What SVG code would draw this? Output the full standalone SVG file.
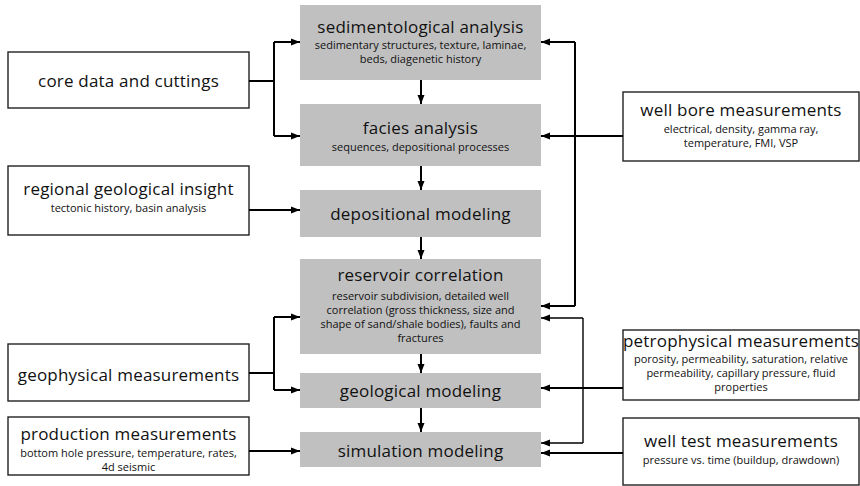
<svg xmlns="http://www.w3.org/2000/svg" width="860" height="486" viewBox="0 0 860 486">
<style>
.g{fill:#c0c0c0;stroke:none}
.w{fill:#fff;stroke:#222;stroke-width:1.4}
text{font-family:"Open Sans","Noto Sans","DejaVu Sans",sans-serif;fill:#111;text-anchor:middle}
.t{font-size:17px;letter-spacing:0.2px}
.s{font-size:11px}
.c path{fill:none;stroke:#000;stroke-width:2}
.c .thin{stroke-width:1.4}
</style>
<defs>
<marker id="a" markerUnits="userSpaceOnUse" markerWidth="10" markerHeight="8" refX="9" refY="4" orient="auto">
<path d="M0,0.5 L9,4 L0,7.5 z" fill="#000"/>
</marker>
</defs>
<rect width="860" height="486" fill="#fff"/>

<g id="sedimentological">
<rect class="g" x="300" y="5" width="241" height="75"/>
<text class="t" x="420.5" y="33">sedimentological analysis</text>
<text class="s" x="420.5" y="49">sedimentary structures, texture, laminae,</text>
<text class="s" x="420.5" y="63">beds, diagenetic history</text>
</g>
<g id="facies">
<rect class="g" x="300" y="104" width="241" height="62"/>
<text class="t" x="420.5" y="134">facies analysis</text>
<text class="s" x="420.5" y="151">sequences, depositional processes</text>
</g>
<g id="depositional">
<rect class="g" x="300" y="190" width="241" height="47"/>
<text class="t" x="420.5" y="220">depositional modeling</text>
</g>
<g id="reservoir">
<rect class="g" x="300" y="259" width="241" height="95"/>
<text class="t" x="420.5" y="281">reservoir correlation</text>
<text class="s" x="420.5" y="300">reservoir subdivision, detailed well</text>
<text class="s" x="420.5" y="314">correlation (gross thickness, size and</text>
<text class="s" x="420.5" y="328">shape of sand/shale bodies), faults and</text>
<text class="s" x="420.5" y="342">fractures</text>
</g>
<g id="geological">
<rect class="g" x="300" y="373" width="241" height="35"/>
<text class="t" x="420.5" y="397">geological modeling</text>
</g>
<g id="simulation">
<rect class="g" x="300" y="432" width="241" height="35"/>
<text class="t" x="420.5" y="457">simulation modeling</text>
</g>

<g id="core">
<rect class="w" x="8" y="52" width="241" height="56"/>
<text class="t" x="128.5" y="87">core data and cuttings</text>
</g>
<g id="regional">
<rect class="w" x="8" y="166" width="241" height="69"/>
<text class="t" x="128.5" y="195">regional geological insight</text>
<text class="s" x="128.5" y="212">tectonic history, basin analysis</text>
</g>
<g id="geophysical">
<rect class="w" x="8" y="344" width="241" height="57"/>
<text class="t" x="128.5" y="381">geophysical measurements</text>
</g>
<g id="production">
<rect class="w" x="8" y="417" width="241" height="58"/>
<text class="t" x="128.5" y="440">production measurements</text>
<text class="s" x="128.5" y="457">bottom hole pressure, temperature, rates,</text>
<text class="s" x="128.5" y="471">4d seismic</text>
</g>
<g id="wellbore">
<rect class="w" x="623" y="92" width="236" height="69"/>
<text class="t" x="741" y="116">well bore measurements</text>
<text class="s" x="741" y="133">electrical, density, gamma ray,</text>
<text class="s" x="741" y="147">temperature, FMI, VSP</text>
</g>
<g id="petrophysical">
<rect class="w" x="623" y="330" width="236" height="70"/>
<text class="t" x="741" y="347">petrophysical measurements</text>
<text class="s" x="741" y="363">porosity, permeability, saturation, relative</text>
<text class="s" x="741" y="377">permeability, capillary pressure, fluid</text>
<text class="s" x="741" y="391">properties</text>
</g>
<g id="welltest">
<rect class="w" x="623" y="418" width="236" height="67"/>
<text class="t" x="741" y="447">well test measurements</text>
<text class="s" x="741" y="464">pressure vs. time (buildup, drawdown)</text>
</g>

<g id="connectors" class="c">
<path d="M249,81 H274"/>
<path d="M274,42 V136"/>
<path d="M274,42 H300" marker-end="url(#a)"/>
<path d="M274,136 H300" marker-end="url(#a)"/>
<path d="M249,210 H300" marker-end="url(#a)"/>
<path d="M249,373 H274"/>
<path d="M274,317 V390"/>
<path d="M274,317 H300" marker-end="url(#a)"/>
<path d="M274,390 H300" marker-end="url(#a)"/>
<path d="M249,451 H300" marker-end="url(#a)"/>
<path d="M421,80 V104" marker-end="url(#a)"/>
<path d="M421,166 V190" marker-end="url(#a)"/>
<path d="M421,237 V259" marker-end="url(#a)"/>
<path d="M421,354 V373" marker-end="url(#a)"/>
<path d="M421,408 V432" marker-end="url(#a)"/>
<path d="M623,136 H541" marker-end="url(#a)"/>
<path d="M575,42 V306"/>
<path d="M575,42 H541" marker-end="url(#a)"/>
<path d="M575,306 H541" marker-end="url(#a)"/>
<path d="M623,388 H541" marker-end="url(#a)"/>
<path d="M623,453 H541" marker-end="url(#a)"/>
<path class="thin" d="M583,318 V443"/>
<path class="thin" d="M583,318 H541" marker-end="url(#a)"/>
<path class="thin" d="M583,443 H541" marker-end="url(#a)"/>
</g>
</svg>
